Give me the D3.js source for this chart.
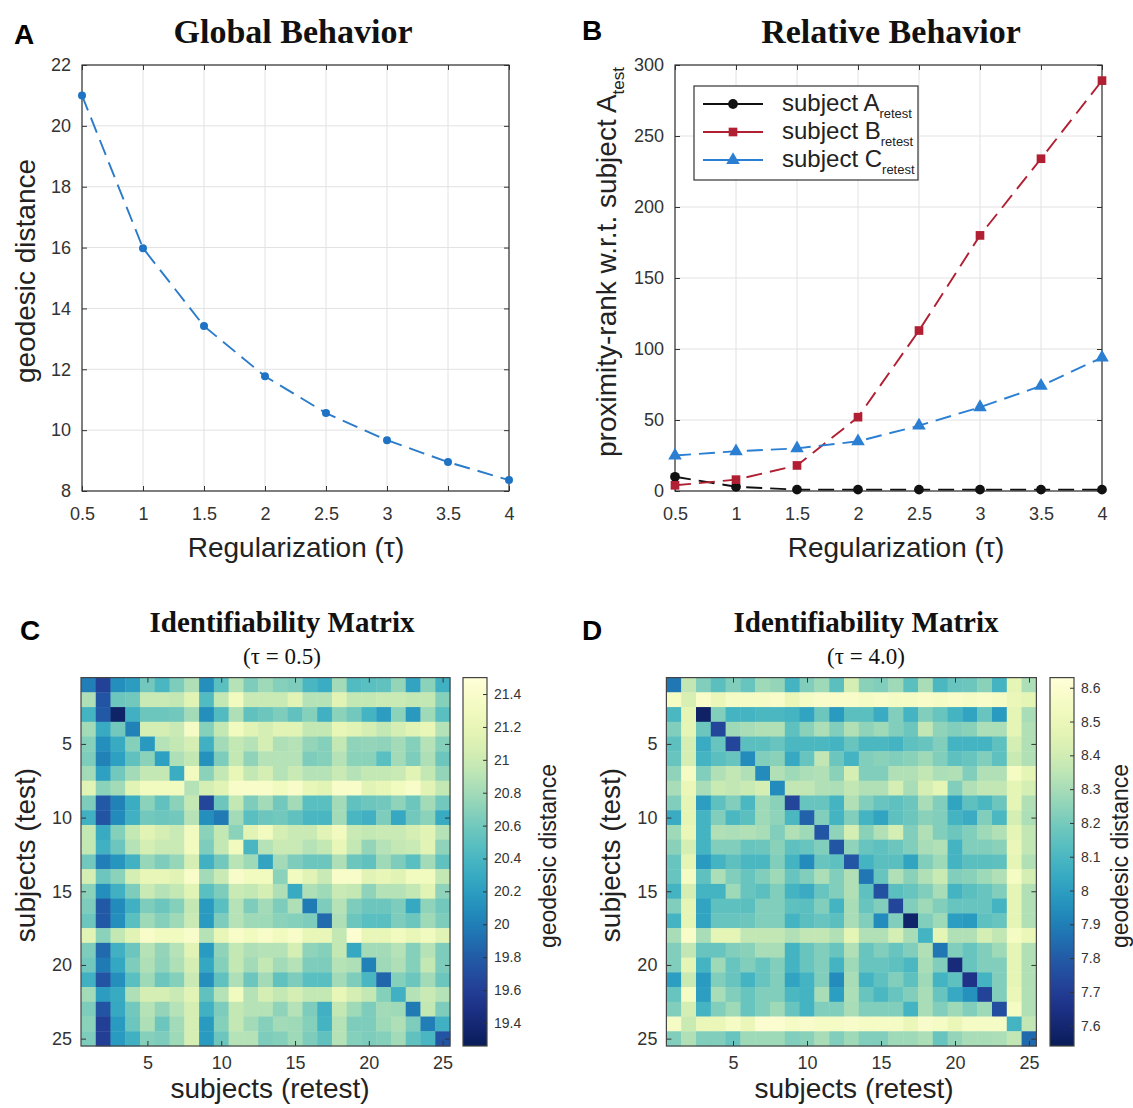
<!DOCTYPE html>
<html>
<head>
<meta charset="utf-8">
<script src="https://cdn.jsdelivr.net/npm/d3@7"></script>
<style>
body{margin:0;background:#fff;}
text{font-family:"Liberation Sans",Arial,sans-serif;}
.serif{font-family:"Liberation Serif","DejaVu Serif",serif;font-weight:bold;fill:#111;}
.axis path,.axis line{stroke:#333;}
.axis text{fill:#333;}
</style>
</head>
<body>
<svg id="fig" width="1133" height="1108"></svg>
<script>
// regularization values and the curves of panels A and B
var tau = [0.5,1,1.5,2,2.5,3,3.5,4];
var globalDist = [21.0,15.98,13.42,11.77,10.56,9.67,8.95,8.36];
var rankA = [10,3,1,1,1,1,1,1];
var rankB = [4,8,18,52,113,180,234,289];
var rankC = [25,28,30,35,46,59,74,94];
var yTicksA = [8,10,12,14,16,18,20,22];
var yTicksB = [0,50,100,150,200,250,300];

var subjects = d3.range(1,26);
var subjTicks = [5,10,15,20,25];
var cbarTicksC = [19.4,19.6,19.8,20,20.2,20.4,20.6,20.8,21,21.2,21.4];
var cbarTicksD = [7.6,7.7,7.8,7.9,8,8.1,8.2,8.3,8.4,8.5,8.6];

// identifiability matrix, tau = 0.5 (rows = test, cols = retest)
var matC = [
[20.0,19.62,20.1,20.2,20.6,20.4,20.65,20.85,20.1,20.49,20.88,20.65,20.78,20.68,20.65,20.4,20.32,20.8,20.45,20.49,20.52,20.74,20.25,20.7,20.35],
[20.85,19.75,20.57,20.6,20.98,20.98,20.95,21.15,20.45,20.95,21.3,20.98,20.98,20.98,21.15,20.88,20.88,21.15,20.95,20.95,20.98,20.98,20.95,20.95,20.68],
[20.38,19.78,19.33,20.35,20.57,20.57,20.6,20.8,20.1,20.45,20.85,20.52,20.57,20.65,20.52,20.68,20.35,20.7,20.6,20.38,20.2,20.7,20.17,20.78,20.49],
[20.8,20.3,20.6,20.02,21.05,21.05,20.98,21.35,20.68,20.95,21.3,21.15,21.05,21.15,21.15,20.95,20.95,21.2,21.15,21.05,20.95,21.05,21.15,21.2,20.88],
[20.68,20.1,20.3,20.68,20.17,20.88,20.95,21.05,20.35,20.8,20.95,20.88,21.05,20.85,20.88,20.74,20.68,20.95,20.72,20.74,20.72,20.8,20.68,20.88,20.68],
[20.65,20.02,20.22,20.52,20.7,20.22,20.85,20.95,20.12,20.65,20.95,20.72,20.88,20.88,20.88,20.65,20.68,20.88,20.7,20.7,20.49,20.8,20.65,20.85,20.57],
[20.8,20.22,20.6,20.8,20.95,20.95,20.32,21.3,20.7,20.95,21.2,20.95,21.05,20.88,20.98,20.88,20.88,20.98,20.88,20.95,20.95,20.98,21.15,20.95,20.74],
[21.15,20.7,20.8,21.15,21.3,21.3,21.3,20.88,21.05,21.15,21.38,21.38,21.38,21.3,21.38,21.2,21.15,21.38,21.38,21.15,21.2,21.3,21.38,21.15,20.95],
[20.65,19.78,20.02,20.32,20.7,20.52,20.7,20.95,19.65,20.57,20.95,20.65,20.8,20.6,20.8,20.49,20.49,20.8,20.52,20.57,20.6,20.72,20.57,20.8,20.6],
[20.35,19.75,20.08,20.35,20.6,20.57,20.6,20.88,20.1,19.98,20.8,20.49,20.57,20.6,20.52,20.4,20.4,20.8,20.4,20.35,20.65,20.28,20.6,20.7,20.3],
[20.95,20.3,20.68,20.95,21.15,21.05,20.98,21.3,20.7,20.95,20.7,21.15,21.3,21.05,20.98,20.98,21.15,21.3,20.98,20.95,20.98,20.98,21.05,21.15,20.88],
[20.95,20.35,20.57,20.88,21.05,20.98,20.98,21.3,20.65,20.95,21.3,20.4,20.88,20.98,20.98,20.88,20.95,21.2,20.95,20.74,20.88,20.95,20.98,21.15,20.72],
[20.6,20.0,20.15,20.36,20.75,20.65,20.75,21.05,20.35,20.6,20.9,20.78,20.25,20.8,20.65,20.57,20.57,20.85,20.57,20.52,20.78,20.65,20.49,20.8,20.52],
[21.05,20.57,20.7,21.05,21.2,21.2,21.15,21.38,20.8,20.98,21.4,21.3,21.3,20.7,21.3,21.15,20.98,21.38,21.38,21.15,21.2,21.15,21.3,21.3,20.95],
[20.7,20.1,20.35,20.65,20.98,20.88,20.95,21.15,20.49,20.65,20.98,20.95,21.05,20.85,20.3,20.85,20.78,20.98,20.95,20.72,20.88,20.88,20.95,21.15,20.72],
[20.65,19.78,20.08,20.35,20.65,20.57,20.68,20.95,20.18,20.49,20.88,20.65,20.8,20.65,20.85,19.98,20.65,20.88,20.65,20.57,20.57,20.65,20.28,20.72,20.6],
[20.57,19.78,20.1,20.49,20.78,20.68,20.78,20.98,20.18,20.65,20.88,20.78,20.78,20.7,20.68,20.65,19.88,20.85,20.57,20.49,20.49,20.65,20.57,20.78,20.65],
[21.15,20.7,20.95,21.15,21.38,21.3,21.3,21.4,20.88,21.2,21.38,21.3,21.38,21.3,21.38,21.2,21.2,20.95,21.45,21.2,21.2,21.3,21.2,21.3,21.15],
[20.65,19.88,20.35,20.57,20.88,20.74,20.88,21.15,20.18,20.72,20.95,20.85,20.88,20.88,21.05,20.72,20.68,20.95,20.28,20.8,20.8,20.88,20.68,20.88,20.65],
[20.6,19.98,20.27,20.65,20.85,20.72,20.85,21.05,20.27,20.68,20.95,20.8,20.95,20.8,20.88,20.65,20.65,20.88,20.85,20.02,20.78,20.85,20.68,20.95,20.65],
[20.35,19.75,20.1,20.49,20.78,20.57,20.68,20.98,20.1,20.52,20.85,20.57,20.8,20.52,20.65,20.49,20.49,20.8,20.65,20.4,19.85,20.68,20.57,20.8,20.57],
[20.8,20.2,20.3,20.85,21.05,21.05,20.98,21.15,20.52,20.88,21.3,20.88,21.05,20.95,21.05,20.95,20.95,21.2,21.05,20.95,20.68,20.35,20.88,20.98,20.88],
[20.65,19.75,20.28,20.6,20.88,20.74,20.88,21.05,20.35,20.65,20.95,20.88,20.88,20.72,20.88,20.65,20.35,20.95,20.78,20.65,20.8,20.78,19.98,20.95,20.65],
[20.7,19.6,20.18,20.57,20.85,20.57,20.8,21.05,20.18,20.68,20.95,20.8,20.68,20.8,20.78,20.68,20.38,20.88,20.65,20.65,20.78,20.85,20.65,20.0,20.35],
[20.65,19.6,20.18,20.35,20.68,20.65,20.78,21.05,20.18,20.57,20.88,20.88,20.65,20.68,20.78,20.65,20.52,20.88,20.68,20.65,20.68,20.8,20.52,20.4,19.75]
];

// identifiability matrix, tau = 4.0
var matD = [
[7.88,8.36,8.22,8.14,8.22,8.17,8.28,8.26,8.08,8.22,8.28,8.14,8.41,8.24,8.22,8.28,8.14,8.3,8.1,8.17,8.18,8.24,8.08,8.47,8.31],
[8.55,8.42,8.57,8.5,8.56,8.56,8.56,8.57,8.5,8.56,8.58,8.57,8.57,8.56,8.57,8.56,8.56,8.57,8.56,8.57,8.56,8.57,8.56,8.5,8.47],
[8.1,8.47,7.57,8.22,8.08,8.08,8.1,8.1,8.08,8.02,8.18,7.99,8.14,8.14,8.05,8.22,8.08,8.22,8.17,8.08,8.02,8.17,7.99,8.47,8.3],
[8.22,8.47,8.18,7.73,8.28,8.3,8.32,8.32,8.15,8.24,8.31,8.22,8.32,8.25,8.28,8.22,8.18,8.36,8.25,8.22,8.24,8.31,8.31,8.47,8.32],
[8.15,8.41,8.05,8.17,7.73,8.14,8.14,8.17,8.1,8.1,8.1,8.08,8.17,8.1,8.1,8.08,8.15,8.17,8.22,8.08,8.08,8.08,8.15,8.41,8.32],
[8.17,8.41,8.08,8.14,8.17,7.94,8.22,8.24,8.04,8.17,8.36,8.18,8.08,8.22,8.24,8.22,8.24,8.28,8.22,8.15,8.17,8.22,8.15,8.38,8.32],
[8.25,8.55,8.22,8.32,8.36,8.32,7.94,8.32,8.28,8.31,8.32,8.24,8.41,8.22,8.22,8.32,8.32,8.36,8.31,8.32,8.22,8.32,8.32,8.55,8.47],
[8.3,8.5,8.3,8.38,8.36,8.38,8.41,7.94,8.36,8.36,8.32,8.31,8.36,8.32,8.32,8.41,8.3,8.41,8.47,8.22,8.32,8.36,8.36,8.47,8.41],
[8.22,8.47,8.0,8.15,8.22,8.1,8.28,8.24,7.73,8.17,8.17,8.08,8.32,8.22,8.17,8.15,8.18,8.3,8.22,8.02,8.15,8.1,8.18,8.47,8.32],
[8.05,8.47,8.08,8.22,8.1,8.14,8.28,8.25,8.1,7.82,8.22,8.08,8.22,8.08,8.02,8.15,8.18,8.24,8.22,8.08,8.05,8.22,8.1,8.41,8.31],
[8.28,8.5,8.08,8.32,8.31,8.32,8.3,8.22,8.32,8.28,7.78,8.25,8.41,8.24,8.32,8.41,8.22,8.32,8.22,8.18,8.22,8.28,8.32,8.47,8.36],
[8.24,8.41,8.08,8.22,8.22,8.17,8.18,8.24,8.15,8.17,8.22,7.78,8.25,8.17,8.15,8.18,8.22,8.3,8.32,8.08,8.22,8.22,8.24,8.5,8.36],
[8.17,8.47,7.99,8.08,8.15,8.1,8.1,8.22,8.08,7.94,8.17,8.15,7.78,8.08,8.14,8.14,8.02,8.22,8.28,8.08,8.14,8.14,8.15,8.47,8.32],
[8.17,8.55,8.15,8.31,8.22,8.17,8.22,8.28,8.17,8.22,8.31,8.22,8.32,7.88,8.17,8.32,8.24,8.32,8.38,8.22,8.24,8.28,8.32,8.55,8.41],
[8.08,8.41,8.08,8.08,8.28,8.17,8.14,8.22,8.08,8.05,8.17,8.22,8.32,8.15,7.77,8.14,8.17,8.22,8.3,8.08,8.14,8.17,8.22,8.47,8.32],
[8.22,8.47,8.02,8.15,8.15,8.14,8.22,8.22,8.15,8.14,8.22,8.08,8.3,8.17,8.22,7.73,8.22,8.28,8.22,8.17,8.17,8.17,8.08,8.47,8.32],
[8.08,8.47,8.02,8.17,8.17,8.18,8.22,8.22,8.08,8.14,8.17,8.14,8.3,8.22,7.94,8.22,7.58,8.22,8.28,8.0,7.99,8.15,8.17,8.47,8.32],
[8.3,8.57,8.3,8.47,8.47,8.36,8.36,8.36,8.32,8.36,8.36,8.32,8.47,8.32,8.32,8.41,8.3,8.08,8.47,8.32,8.32,8.41,8.36,8.55,8.5],
[8.22,8.36,8.17,8.17,8.22,8.24,8.3,8.3,8.08,8.17,8.22,8.17,8.32,8.17,8.22,8.17,8.22,8.32,7.88,8.22,8.17,8.22,8.28,8.47,8.32],
[8.22,8.47,8.08,8.28,8.17,8.22,8.17,8.22,8.08,8.17,8.22,8.08,8.28,8.17,8.17,8.15,8.1,8.3,8.22,7.62,8.17,8.22,8.22,8.47,8.32],
[8.0,8.38,7.99,8.22,8.17,8.08,8.17,8.22,8.02,8.08,8.22,7.94,8.3,8.08,8.15,8.22,8.15,8.28,8.08,8.15,7.66,8.08,8.22,8.47,8.32],
[8.17,8.55,8.0,8.3,8.22,8.17,8.22,8.22,8.1,8.08,8.3,8.0,8.31,8.17,8.1,8.17,8.22,8.3,8.17,8.04,7.96,7.72,8.22,8.5,8.32],
[8.22,8.41,8.08,8.22,8.28,8.17,8.22,8.28,8.17,8.08,8.22,8.22,8.3,8.22,8.22,8.22,8.08,8.3,8.22,8.28,8.22,8.28,7.76,8.55,8.32],
[8.56,8.38,8.5,8.5,8.56,8.5,8.6,8.6,8.56,8.58,8.56,8.56,8.58,8.56,8.56,8.56,8.5,8.58,8.56,8.5,8.56,8.56,8.56,8.08,8.36],
[8.22,8.32,8.22,8.22,8.17,8.28,8.28,8.28,8.22,8.24,8.3,8.22,8.28,8.22,8.22,8.28,8.28,8.31,8.17,8.26,8.3,8.3,8.31,8.36,7.84]
];

var svg = d3.select("#fig");

// frame with grid, box and inward ticks on all four sides (matlab style)
function drawFrame(g, x, y, xt, yt){
    var xl = x.range()[0], xr = x.range()[1];
    var yb = y.range()[0], yt0 = y.range()[1];
    g.selectAll(".gx").data(xt).enter().append("line")
        .attr("x1", d => x(d)).attr("x2", d => x(d))
        .attr("y1", yt0).attr("y2", yb)
        .attr("stroke", "#e2e2e2");
    g.selectAll(".gy").data(yt).enter().append("line")
        .attr("x1", xl).attr("x2", xr)
        .attr("y1", d => y(d)).attr("y2", d => y(d))
        .attr("stroke", "#e2e2e2");
    var fmt = d3.format("~g");
    g.append("g").attr("class", "axis")
        .attr("transform", "translate(0," + yb + ")")
        .call(d3.axisBottom(x).tickValues(xt).tickFormat(fmt).tickSizeInner(-5).tickSizeOuter(0).tickPadding(16));
    g.append("g").attr("class", "axis")
        .attr("transform", "translate(0," + yt0 + ")")
        .call(d3.axisTop(x).tickValues(xt).tickFormat("").tickSizeInner(-5).tickSizeOuter(0));
    g.append("g").attr("class", "axis")
        .attr("transform", "translate(" + xl + ",0)")
        .call(d3.axisLeft(y).tickValues(yt).tickFormat(fmt).tickSizeInner(-5).tickSizeOuter(0).tickPadding(11));
    g.append("g").attr("class", "axis")
        .attr("transform", "translate(" + xr + ",0)")
        .call(d3.axisRight(y).tickValues(yt).tickFormat("").tickSizeInner(-5).tickSizeOuter(0));
    g.append("rect")
        .attr("x", xl).attr("y", yt0)
        .attr("width", xr - xl).attr("height", yb - yt0)
        .attr("fill", "none").attr("stroke", "#333").attr("stroke-width", 1.2);
    g.selectAll(".axis text").attr("font-size", "18px");
    g.selectAll(".axis .domain").remove();
}

// ---------------- panel A
var xA = d3.scaleLinear().domain([0.5,4]).range([82,509]);
var yA = d3.scaleLinear().domain([8,22]).range([491,65]);
var gA = svg.append("g");
drawFrame(gA, xA, yA, tau, yTicksA);

var lineA = d3.line().x((d,i) => xA(tau[i])).y(d => yA(d));
gA.append("path").datum(globalDist)
    .attr("d", lineA).attr("fill", "none")
    .attr("stroke", "#2a7bc9").attr("stroke-width", 1.9)
    .attr("stroke-dasharray", "16,8");
gA.selectAll(".dotA").data(globalDist).enter().append("circle")
    .attr("cx", (d,i) => xA(tau[i])).attr("cy", d => yA(d))
    .attr("r", 4).attr("fill", "#1f73c4");

svg.append("text").attr("x", 14).attr("y", 44)
    .attr("font-size", "28px").attr("font-weight", "bold").text("A");
svg.append("text").attr("class", "serif").attr("x", 293).attr("y", 43)
    .attr("font-size", "34px").attr("text-anchor", "middle").text("Global Behavior");
svg.append("text").attr("transform", "translate(35,271) rotate(-90)")
    .attr("font-size", "28px").attr("text-anchor", "middle").attr("fill", "#222")
    .text("geodesic distance");
svg.append("text").attr("x", 296).attr("y", 557)
    .attr("font-size", "28px").attr("text-anchor", "middle").attr("fill", "#222")
    .text("Regularization (τ)");

// ---------------- panel B
var xB = d3.scaleLinear().domain([0.5,4]).range([675,1102]);
var yB = d3.scaleLinear().domain([0,300]).range([491,65]);
var gB = svg.append("g");
drawFrame(gB, xB, yB, tau, yTicksB);

var seriesB = [
    {name: "A", vals: rankA, color: "#111111", sym: d3.symbolCircle, size: 75},
    {name: "B", vals: rankB, color: "#b01f32", sym: d3.symbolSquare, size: 75},
    {name: "C", vals: rankC, color: "#2b7fd3", sym: d3.symbolTriangle, size: 80}
];
var lineB = d3.line().x((d,i) => xB(tau[i])).y(d => yB(d));
seriesB.forEach(s => {
    gB.append("path").datum(s.vals)
        .attr("d", lineB).attr("fill", "none")
        .attr("stroke", s.color).attr("stroke-width", 1.9)
        .attr("stroke-dasharray", "16,8");
    gB.selectAll(".m" + s.name).data(s.vals).enter().append("path")
        .attr("transform", (d,i) => "translate(" + xB(tau[i]) + "," + yB(d) + ")")
        .attr("d", d3.symbol().type(s.sym).size(s.size))
        .attr("fill", s.color);
});

// legend
var leg = gB.append("g");
leg.append("rect").attr("x", 694).attr("y", 86).attr("width", 224).attr("height", 94)
    .attr("fill", "#fff").attr("stroke", "#333").attr("stroke-width", 1.2);
seriesB.forEach((s,i) => {
    var ly = 104 + i * 28;
    leg.append("line").attr("x1", 703).attr("x2", 763).attr("y1", ly).attr("y2", ly)
        .attr("stroke", s.color).attr("stroke-width", 1.8);
    leg.append("path").attr("transform", "translate(733," + ly + ")")
        .attr("d", d3.symbol().type(s.sym).size(s.size)).attr("fill", s.color);
    var t = leg.append("text").attr("x", 782).attr("y", ly + 7)
        .attr("font-size", "24px").attr("fill", "#222");
    t.append("tspan").text("subject " + s.name);
    t.append("tspan").attr("font-size", "13px").attr("dy", 7).text("retest");
});

svg.append("text").attr("x", 582).attr("y", 40)
    .attr("font-size", "28px").attr("font-weight", "bold").text("B");
svg.append("text").attr("class", "serif").attr("x", 891).attr("y", 43)
    .attr("font-size", "34px").attr("text-anchor", "middle").text("Relative Behavior");
var yl = svg.append("text").attr("transform", "translate(616,262) rotate(-90)")
    .attr("font-size", "28px").attr("text-anchor", "middle").attr("fill", "#222");
yl.append("tspan").text("proximity-rank w.r.t. subject A");
yl.append("tspan").attr("font-size", "17px").attr("dy", 8).text("test");
svg.append("text").attr("x", 896).attr("y", 557)
    .attr("font-size", "28px").attr("text-anchor", "middle").attr("fill", "#222")
    .text("Regularization (τ)");

// ---------------- heatmaps
function drawHeat(id, mat, left, right, dom, cbTicks, cbX, cbLabelX, letter, letterX, titleX, sub){
    var top = 677.6, bottom = 1046;
    var g = svg.append("g");
    var x = d3.scaleBand().domain(subjects).range([left, right]);
    var y = d3.scaleBand().domain(subjects).range([top, bottom]);
    var color = d3.scaleSequential(d3.interpolateYlGnBu).domain([dom[1], dom[0]]);

    mat.forEach((row, r) => {
        g.selectAll(".c" + r).data(row).enter().append("rect")
            .attr("x", (d,c) => x(subjects[c]))
            .attr("y", y(subjects[r]))
            .attr("width", x.bandwidth() + 0.4)
            .attr("height", y.bandwidth() + 0.4)
            .attr("fill", d => color(d));
    });

    // axes use point positions at band centres
    var xp = d3.scalePoint().domain(subjects).range([left + x.bandwidth()/2, right - x.bandwidth()/2]);
    var yp = d3.scalePoint().domain(subjects).range([top + y.bandwidth()/2, bottom - y.bandwidth()/2]);
    g.append("g").attr("class", "axis").attr("transform", "translate(0," + bottom + ")")
        .call(d3.axisBottom(xp).tickValues(subjTicks).tickSizeInner(-5).tickSizeOuter(0).tickPadding(10));
    g.append("g").attr("class", "axis").attr("transform", "translate(0," + top + ")")
        .call(d3.axisTop(xp).tickValues(subjTicks).tickFormat("").tickSizeInner(-5).tickSizeOuter(0));
    g.append("g").attr("class", "axis").attr("transform", "translate(" + left + ",0)")
        .call(d3.axisLeft(yp).tickValues(subjTicks).tickSizeInner(-5).tickSizeOuter(0).tickPadding(9));
    g.append("g").attr("class", "axis").attr("transform", "translate(" + right + ",0)")
        .call(d3.axisRight(yp).tickValues(subjTicks).tickFormat("").tickSizeInner(-5).tickSizeOuter(0));
    g.selectAll(".axis .domain").remove();
    g.selectAll(".axis text").attr("font-size", "18px");
    g.append("rect").attr("x", left).attr("y", top)
        .attr("width", right - left).attr("height", bottom - top)
        .attr("fill", "none").attr("stroke", "#444").attr("stroke-width", 1.2);

    // colorbar
    var cbW = 24;
    var cy = d3.scaleLinear().domain(dom).range([bottom, top]);
    var grad = svg.append("defs").append("linearGradient").attr("id", "grad" + id)
        .attr("x1", 0).attr("y1", 1).attr("x2", 0).attr("y2", 0);
    d3.range(0, 1.0001, 0.05).forEach(t => {
        grad.append("stop").attr("offset", t)
            .attr("stop-color", color(dom[0] + t * (dom[1] - dom[0])));
    });
    g.append("rect").attr("x", cbX).attr("y", top).attr("width", cbW).attr("height", bottom - top)
        .attr("fill", "url(#grad" + id + ")").attr("stroke", "#444").attr("stroke-width", 1.2);
    var cax = g.append("g").attr("class", "axis").attr("transform", "translate(" + (cbX + cbW) + ",0)")
        .call(d3.axisRight(cy).tickValues(cbTicks).tickFormat(d3.format("~g")).tickSizeInner(-4).tickSizeOuter(0).tickPadding(7));
    cax.select(".domain").remove();
    cax.selectAll("text").attr("font-size", "14px");
    svg.append("text").attr("transform", "translate(" + cbLabelX + ",856) rotate(-90)")
        .attr("font-size", "23px").attr("text-anchor", "middle").attr("fill", "#222")
        .text("geodesic distance");

    svg.append("text").attr("x", letterX).attr("y", 640)
        .attr("font-size", "28px").attr("font-weight", "bold").text(letter);
    svg.append("text").attr("class", "serif").attr("x", titleX).attr("y", 632)
        .attr("font-size", "29px").attr("text-anchor", "middle").text("Identifiability Matrix");
    svg.append("text").attr("x", titleX).attr("y", 664)
        .style("font-family", "'Liberation Serif','DejaVu Serif',serif")
        .attr("font-size", "23px").attr("text-anchor", "middle").attr("fill", "#111").text(sub);
    svg.append("text").attr("transform", "translate(" + (left - 46) + ",855) rotate(-90)")
        .attr("font-size", "28px").attr("text-anchor", "middle").attr("fill", "#222")
        .text("subjects (test)");
    svg.append("text").attr("x", titleX - 12).attr("y", 1098)
        .attr("font-size", "28px").attr("text-anchor", "middle").attr("fill", "#222")
        .text("subjects (retest)");
}

drawHeat("C", matC, 81, 450, [19.26, 21.5], cbarTicksC, 463, 556, "C", 20, 282, "(τ = 0.5)");
drawHeat("D", matD, 666.4, 1036.4, [7.54, 8.63], cbarTicksD, 1050, 1128, "D", 582, 866, "(τ = 4.0)");
</script>
</body>
</html>
